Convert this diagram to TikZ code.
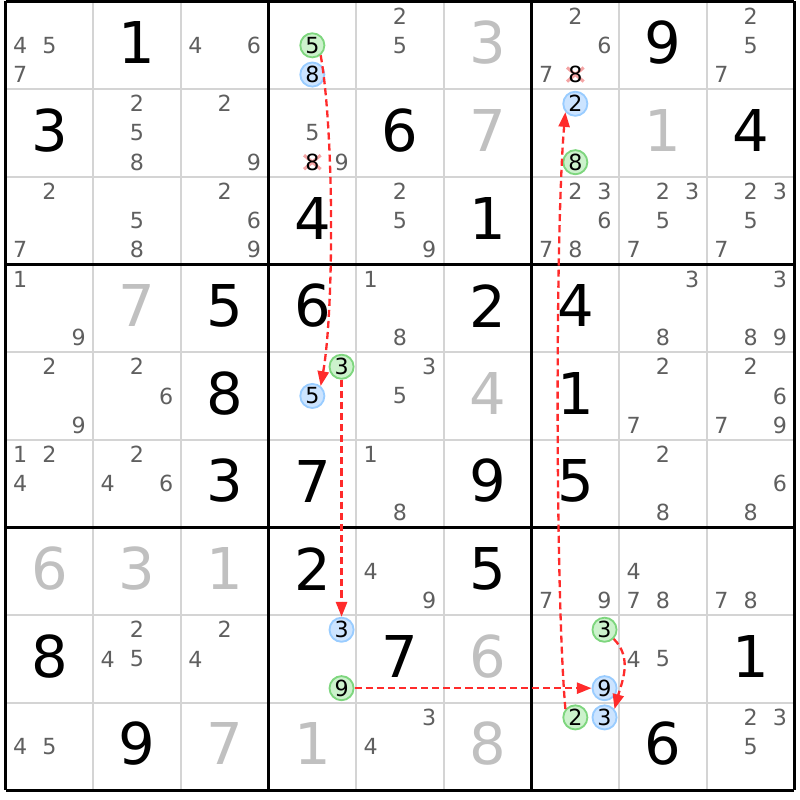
\documentclass[tikz,border=0pt]{standalone}
\usepackage{fontspec}
\setmainfont{DejaVu Sans}
\usepackage{tikz}
\usetikzlibrary{positioning}
\usetikzlibrary{arrows.meta}
\usetikzlibrary{calc}

\definecolor{candgray}{HTML}{5F5F5F}
\definecolor{solvedgray}{HTML}{C0C0C0}
\definecolor{linegray}{HTML}{D4D4D4}
\definecolor{onfill}{HTML}{CCF2CC}
\definecolor{ondraw}{HTML}{7ED67E}
\definecolor{offfill}{HTML}{CCE4FF}
\definecolor{offdraw}{HTML}{99CCFF}
\definecolor{chainred}{HTML}{FF2B2B}
\definecolor{crossred}{HTML}{F4A4A4}

\begin{document}
\begin{tikzpicture}[x=1cm,y=1cm,
    given/.style={font=\fontsize{18.7}{22}\selectfont,inner sep=0pt,text=black},
    solved/.style={given,text=solvedgray},
    cand/.style={font=\fontsize{7.2}{8}\selectfont,inner sep=0pt,text=candgray},
    oncand/.style={circle,draw=ondraw,fill=onfill,line width=0.6pt,minimum size=0.275cm,inner sep=0pt,font=\fontsize{7.2}{8}\selectfont,text=black},
    offcand/.style={oncand,draw=offdraw,fill=offfill},
    cutcand/.style={cand,text=black},
    chain/.style={draw=chainred,line width=0.75pt,dash pattern=on 2.3pt off 1.3pt,-{Triangle[length=4.8pt,width=3.6pt]}}]
\useasboundingbox (-0.063,0.017) rectangle (9.063,-9.108);

% grid
\foreach \i in {1,2,4,5,7,8}{
  \draw[linegray,line width=0.7pt] (\i,0) -- (\i,-9);
  \draw[linegray,line width=0.7pt] (0,-\i) -- (9,-\i);
}
\foreach \i in {0,3,6,9}{
  \draw[black,line width=1pt] (\i,0) -- (\i,-9);
  \draw[black,line width=1pt] (0,-\i) -- (9,-\i);
}

% givens and solved cells
\foreach \ri/\ci/\di in {1/2/1,1/8/9,2/1/3,2/5/6,2/9/4,3/4/4,3/6/1,4/3/5,4/4/6,4/6/2,4/7/4,5/3/8,5/7/1,6/3/3,6/4/7,6/6/9,6/7/5,7/4/2,7/6/5,8/1/8,8/5/7,8/9/1,9/2/9,9/8/6}
  \node[given] (g\ri\ci) at ({\ci-0.5},{0.53-\ri}) {\di};
\foreach \ri/\ci/\di in {1/6/3,2/6/7,2/8/1,4/2/7,5/6/4,7/1/6,7/2/3,7/3/1,8/6/6,9/3/7,9/4/1,9/6/8}
  \node[solved] (g\ri\ci) at ({\ci-0.5},{0.53-\ri}) {\di};

% candidates
\foreach \ri/\ci/\di in {1/1/4,1/1/5,1/1/7,1/3/4,1/3/6,1/5/2,1/5/5,1/7/2,1/7/6,1/7/7,1/9/2,1/9/5,1/9/7,
    2/2/2,2/2/5,2/2/8,2/3/2,2/3/9,2/4/5,2/4/9,
    3/1/2,3/1/7,3/2/5,3/2/8,3/3/2,3/3/6,3/3/9,3/5/2,3/5/5,3/5/9,3/7/2,3/7/3,3/7/6,3/7/7,3/7/8,3/8/2,3/8/3,3/8/5,3/8/7,3/9/2,3/9/3,3/9/5,3/9/7,
    4/1/1,4/1/9,4/5/1,4/5/8,4/8/3,4/8/8,4/9/3,4/9/8,4/9/9,
    5/1/2,5/1/9,5/2/2,5/2/6,5/5/3,5/5/5,5/8/2,5/8/7,5/9/2,5/9/6,5/9/7,5/9/9,
    6/1/1,6/1/2,6/1/4,6/2/2,6/2/4,6/2/6,6/5/1,6/5/8,6/8/2,6/8/8,6/9/6,6/9/8,
    7/5/4,7/5/9,7/7/7,7/7/9,7/8/4,7/8/7,7/8/8,7/9/7,7/9/8,
    8/2/2,8/2/4,8/2/5,8/3/2,8/3/4,8/8/4,8/8/5,
    9/1/4,9/1/5,9/5/3,9/5/4,9/9/2,9/9/3,9/9/5}
  \node[cand] (k\ri\ci\di) at ({\ci-0.5+(mod(\di-1,3)-1)/3},{0.5-\ri-(int((\di-1)/3)-1)/3}) {\di};

% eliminated candidates
\foreach \ri/\ci/\di in {1/7/8,2/4/8}{
  \coordinate (x\ri\ci\di) at ({\ci-0.5+(mod(\di-1,3)-1)/3},{0.5-\ri-(int((\di-1)/3)-1)/3});
  \draw[crossred,line width=1pt] ($(x\ri\ci\di)+(-0.095,-0.08)$) -- ($(x\ri\ci\di)+(0.095,0.08)$);
  \draw[crossred,line width=1pt] ($(x\ri\ci\di)+(-0.095,0.08)$) -- ($(x\ri\ci\di)+(0.095,-0.08)$);
  \node[cutcand] (k\ri\ci\di) at (x\ri\ci\di) {\di};
}

% chain candidates
\foreach \ri/\ci/\di in {1/4/5,2/7/8,5/4/3,8/4/9,8/7/3,9/7/2}
  \node[oncand] (k\ri\ci\di) at ({\ci-0.5+(mod(\di-1,3)-1)/3},{0.5-\ri-(int((\di-1)/3)-1)/3}) {\di};
\foreach \ri/\ci/\di in {1/4/8,2/7/2,5/4/5,8/4/3,8/7/9,9/7/3}
  \node[offcand] (k\ri\ci\di) at ({\ci-0.5+(mod(\di-1,3)-1)/3},{0.5-\ri-(int((\di-1)/3)-1)/3}) {\di};

% links
\draw[chain] (k145.-50) to[out=-80,in=80,looseness=0.6] (k545.50);
\draw[chain] (k543) -- (k843);
\draw[chain] (k849) -- (k879);
\draw[chain] (k972.140) to[out=95,in=-95,looseness=0.5] (k272.220);
\draw[chain] (k873.-45) to[out=-45,in=75] (k973.40);

\end{tikzpicture}
\end{document}
